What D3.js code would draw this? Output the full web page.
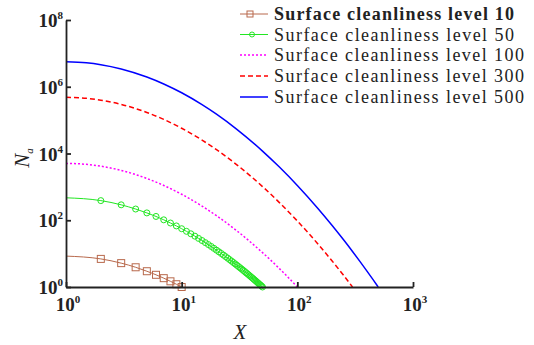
<!DOCTYPE html>
<html><head><meta charset="utf-8">
<script src="https://cdn.jsdelivr.net/npm/d3@7/dist/d3.min.js"></script>
</head>
<body style="margin:0"><svg id="c" width="534" height="345"></svg>
<script>
// ---- data ----
const seriesNames = ["Surface cleanliness level 10","Surface cleanliness level 50","Surface cleanliness level 100","Surface cleanliness level 300","Surface cleanliness level 500"];
const x10 = [1,2,3,4,5,6,7,8,9,10];
const n10 = [8.43,6.95,5.19,3.90,2.97,2.32,1.84,1.48,1.21,1.0];
const x50 = [1,2,3,4,5,6,7,8,9,10,11,12,13,14,15,16,17,18,19,20,21,22,23,24,25,26,27,28,29,30,31,32,33,34,35,36,37,38,39,40,41,42,43,44,45,46,47,48,49,50];
const n50 = [471,388,290,217,166,130,103,82.7,67.6,55.8,46.6,39.3,33.4,28.6,24.7,21.4,18.7,16.4,14.4,12.7,11.3,10.1,9.03,8.11,7.30,6.59,5.97,5.42,4.93,4.49,4.10,3.76,3.45,3.17,2.92,2.69,2.49,2.30,2.13,1.98,1.84,1.71,1.59,1.49,1.39,1.30,1.21,1.14,1.07,1.0];
const x100 = [1,1.5,2,3,5,7,10,15,20,30,40,50,60,70,80,90,100];
const n100 = [5058,4735,4171,3113,1785,1103,600,265,137,48.3,21.2,10.7,5.97,3.56,2.24,1.47,1.0];
const x300 = [1,1.5,2,3,5,7,10,15,20,30,40,50,70,100,150,200,250,300];
const n300 = [481000,450200,396500,296000,169700,104900,57000,25200,13020,4587,2020,1021,338,95.1,19.8,6.01,2.28,1.0];
const x500 = [1,1.5,2,3,5,7,10,15,20,30,50,70,100,150,200,250,300,350,400,450,500];
const n500 = [5565000,5207000,4586000,3424000,1963000,1213000,659600,291300,150600,53080,11820,3916,1100,229,69.6,26.4,11.6,5.65,2.99,1.69,1.0];
const xTickExps = [0,1,2,3];
const yTickExps = [0,2,4,6,8];

// ---- layout ----
const svg = d3.select("#c");
const FONT = "Liberation Serif";
const L = 66, R = 413, T = 20, B = 287;
const x = d3.scaleLog().domain([1,1000]).range([L,R]);
const y = d3.scaleLog().domain([1,1e8]).range([B,T]);

const colors = ["#b8694c","#22e622","#ff00ff","#ff0000","#0000ff"];
const dashes = [null,null,"2,2","5,3",null];
const widths = [1,1,1.5,1.5,1.5];
const xs = [x10,x50,x100,x300,x500];
const ns = [n10,n50,n100,n300,n500];

const line = d3.line().x(d=>x(d[0])).y(d=>y(d[1])).curve(d3.curveMonotoneX);

function label(parent){ return parent.append("text").attr("font-family",FONT).attr("fill","#222"); }

xs.forEach((xa,i)=>{
  const pts = xa.map((v,j)=>[v,ns[i][j]]);
  svg.append("path").attr("d",line(pts)).attr("fill","none")
    .attr("stroke",colors[i]).attr("stroke-width",widths[i])
    .attr("stroke-dasharray",dashes[i]);
  if(i===0){
    svg.append("g").selectAll("rect").data(pts.slice(1)).join("rect")
      .attr("x",d=>x(d[0])-3.5).attr("y",d=>y(d[1])-3.5).attr("width",7).attr("height",7)
      .attr("fill","none").attr("stroke",colors[0]).attr("stroke-width",1);
  }
  if(i===1){
    svg.append("g").selectAll("circle").data(pts.slice(1)).join("circle")
      .attr("cx",d=>x(d[0])).attr("cy",d=>y(d[1])).attr("r",3)
      .attr("fill","none").attr("stroke",colors[1]).attr("stroke-width",1);
  }
});

// ---- axes ----
const xAxis = d3.axisBottom(x).tickValues(xTickExps.map(e=>Math.pow(10,e)))
  .tickSizeInner(-5).tickSizeOuter(0).tickFormat("");
const yAxis = d3.axisLeft(y).tickValues(yTickExps.map(e=>Math.pow(10,e)))
  .tickSizeInner(-5).tickSizeOuter(0).tickFormat("");
const gx = svg.append("g").attr("transform",`translate(0,${B})`).call(xAxis);
const gy = svg.append("g").attr("transform",`translate(${L},0)`).call(yAxis);
[gx,gy].forEach(g=>{
  g.selectAll("path,line").attr("stroke","#222").attr("stroke-width",1.8);
});

// tick labels with superscripts
xTickExps.forEach(e=>{
  const t = label(svg).attr("x",x(Math.pow(10,e))+2).attr("y",311)
    .attr("text-anchor","middle").attr("font-size",19).attr("font-weight","bold");
  t.append("tspan").text("10");
  t.append("tspan").attr("dy",-8).attr("font-size",11).text(e);
});
yTickExps.forEach(e=>{
  const t = label(svg).attr("x",63).attr("y",y(Math.pow(10,e))+7)
    .attr("text-anchor","end").attr("font-size",19).attr("font-weight","bold");
  t.append("tspan").text("10");
  t.append("tspan").attr("dy",-8).attr("font-size",11).text(e);
});

// axis titles
label(svg).attr("x",240).attr("y",339).attr("text-anchor","middle")
  .attr("font-size",21).attr("font-style","italic").text("X");
const yt = label(svg).attr("transform","translate(29,158) rotate(-90)")
  .attr("text-anchor","middle").attr("font-size",21).attr("font-style","italic");
yt.append("tspan").text("N");
yt.append("tspan").attr("dy",4).attr("font-size",11).text("a");

// ---- legend ----
const legY = [14,34.5,55,76,97];
const legLen = [240,240,250,250,250];
seriesNames.forEach((name,i)=>{
  const g = svg.append("g");
  g.append("line").attr("x1",240).attr("x2",268).attr("y1",legY[i]).attr("y2",legY[i])
    .attr("stroke",colors[i]).attr("stroke-width",widths[i]).attr("stroke-dasharray",dashes[i]);
  if(i===0) g.append("rect").attr("x",250-3).attr("y",legY[i]-3).attr("width",6).attr("height",6)
    .attr("fill","none").attr("stroke",colors[0]);
  if(i===1) g.append("circle").attr("cx",252).attr("cy",legY[i]).attr("r",2.5)
    .attr("fill","none").attr("stroke",colors[1]);
  label(g).attr("x",274).attr("y",legY[i]+6).attr("font-size",18)
    .attr("font-weight",i===0?"bold":"normal")
    .attr("textLength",legLen[i]).attr("lengthAdjust","spacing").text(name);
});
</script></body></html>
